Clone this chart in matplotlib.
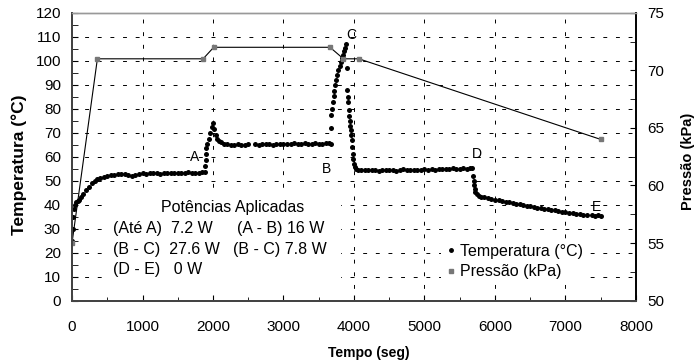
import matplotlib
matplotlib.use("Agg")
import matplotlib.pyplot as plt
from matplotlib.lines import Line2D
from matplotlib.patches import Rectangle
from matplotlib.ticker import MultipleLocator

plt.rcParams['font.family'] = ['Liberation Sans', 'DejaVu Sans']

# temperatura (°C) x tempo (s)
t_temp = [0, 10, 20, 30, 45, 60, 80, 100, 130, 160, 200, 240, 280, 320, 360, 400,
          450, 500, 550, 600, 650, 700, 750, 800, 850, 900, 950, 1000, 1050, 1100,
          1150, 1200, 1250, 1300, 1350, 1400, 1450, 1500, 1550, 1600, 1650, 1700,
          1750, 1800, 1850, 1880,
          1890, 1895, 1900, 1905, 1920, 1940, 1960, 1980, 2000, 2020, 2040, 2060,
          2090, 2120, 2160, 2200, 2250, 2300, 2350, 2400, 2450, 2500, 2600, 2650,
          2700, 2750, 2800, 2850, 2900, 2950, 3000, 3050, 3100, 3150, 3200, 3250,
          3300, 3350, 3400, 3450, 3500, 3550, 3600, 3650, 3670,
          3675, 3680, 3690, 3700, 3710, 3720, 3735, 3750, 3765, 3780, 3795, 3810,
          3825, 3840, 3855, 3870, 3885,
          3895, 3905, 3912, 3920, 3928, 3935, 3942, 3948, 3955, 3962, 3970, 3978,
          3985, 3990, 4000, 4010, 4030, 4060, 4100,
          4150, 4200, 4250, 4300, 4350, 4400, 4450, 4500, 4550, 4600, 4650, 4700,
          4750, 4800, 4850, 4900, 4950, 5000, 5050, 5100, 5150, 5200, 5250, 5300,
          5350, 5400, 5450, 5500, 5550, 5600, 5650, 5680,
          5695, 5700, 5705, 5710, 5720, 5740, 5770, 5800, 5850, 5900, 5950, 6000,
          6050, 6100, 6150, 6200, 6250, 6300, 6350, 6400, 6450, 6500, 6550, 6600,
          6650, 6700, 6750, 6800, 6850, 6900, 6950, 7000, 7050, 7100, 7150, 7200,
          7250, 7300, 7380, 7420, 7460, 7500]
temp = [25, 30, 35, 38, 40, 41, 41.5, 42, 43, 44.5, 46, 47.5, 49, 50, 50.8, 51.2,
        51.6, 52, 52.2, 52.5, 52.8, 52.6, 52.9, 52.4, 52, 52.2, 52.8, 53, 52.8, 53.1,
        53, 53.2, 52.9, 53.1, 53.3, 53, 53.2, 53.4, 53.1, 53.3, 53.5, 53.2,
        53.4, 53.3, 53.5, 53.6,
        56, 58.5, 61, 63.5, 65.5, 67.5, 70, 72.5, 74, 71.5, 69, 67.5,
        66.5, 66, 65.5, 65.2, 65, 64.8, 65.1, 64.9, 65, 65.2, 65.1, 65,
        65.3, 65.1, 65.2, 65, 65.3, 65.5, 65.2, 65.4, 65.3, 65.6, 65.3, 65.4,
        65.7, 65.5, 65.3, 65.6, 65.5, 65.4, 65.6, 65.7, 65.5,
        72, 77.5, 80, 83, 85.5, 87.5, 90, 92, 94, 96, 98, 99.5,
        101, 102.5, 104, 105.5, 106.8,
        97, 88, 85, 83, 79.5, 77, 75, 73, 71, 69, 67, 64,
        61, 59, 57, 55.7, 55, 54.6, 54.4,
        54.5, 54.3, 54.6, 54.4, 54.2, 54.5, 54.3, 54.6, 54.4, 54.2, 54.5, 54.7,
        54.4, 54.3, 54.6, 54.5, 54.4, 54.7, 54.5, 54.8, 54.6, 54.9, 54.7, 55,
        54.8, 55.1, 54.9, 55, 55.2, 55, 55.3, 55.1,
        52, 50, 48, 46.5, 45.2, 44.5, 43.8, 43.3, 43, 42.6, 42.4, 42.1,
        41.8, 41.5, 41.3, 41, 40.7, 40.4, 40.2, 39.9, 39.6, 39.4, 39.1, 38.8,
        38.6, 38.3, 38.1, 37.8, 37.6, 37.4, 37.1, 36.9, 36.7, 36.5, 36.3, 36.1,
        35.9, 35.7, 35.5, 35.4, 35.5, 35.3]

# pressao (kPa)
t_pres = [0, 360, 1860, 2010, 3660, 3850, 4070, 7500]
pres = [55, 71, 71, 72, 72, 71, 71, 64]

# letras dos pontos
pt_labels = ['A', 'B', 'C', 'D', 'E']
pt_x = [1745, 3612, 3967, 5740, 7442]
pt_y = [60, 54.7, 110.7, 61, 38.9]

fig = plt.figure(figsize=(6.95, 3.64), dpi=100)
ax1 = fig.add_axes([0.1036, 0.174, 0.8115, 0.791])
ax2 = ax1.twinx()
ax1.set_axisbelow(True)

ax1.plot(t_temp, temp, 'o', color='k', ms=3.6, mew=0, zorder=3)
ax2.plot(t_pres, pres, '-', color='k', lw=0.8, marker='s', ms=2.6,
         mfc='#777777', mec='#777777', zorder=2)

ax1.set_xlim(0, 8000)
ax1.set_ylim(0, 120)
ax2.set_ylim(50, 75)
ax1.xaxis.set_major_locator(MultipleLocator(1000))
ax1.xaxis.set_minor_locator(MultipleLocator(500))
ax1.yaxis.set_major_locator(MultipleLocator(10))
ax1.yaxis.set_minor_locator(MultipleLocator(5))
ax2.yaxis.set_major_locator(MultipleLocator(5))
ax2.yaxis.set_minor_locator(MultipleLocator(2.5))

ax1.grid(True, which='major', color='k', lw=0.7, linestyle=(0, (4, 9)))

ax1.tick_params(axis='x', which='both', direction='in', labelsize=11, pad=14)
ax1.tick_params(axis='x', which='major', length=4)
ax1.tick_params(axis='x', which='minor', length=3)
ax1.tick_params(axis='y', which='both', direction='in', labelsize=11, pad=8, length=4)
ax2.tick_params(axis='y', which='both', direction='in', labelsize=11, pad=8, length=4)

for a in (ax1, ax2):
    a.spines['top'].set_color('#999999')
    a.spines['top'].set_linewidth(1.0)
    a.spines['left'].set_color('#444444')
    a.spines['left'].set_linewidth(1.4)
    a.spines['bottom'].set_color('#444444')
    a.spines['bottom'].set_linewidth(1.4)
    a.spines['right'].set_color('k')
    a.spines['right'].set_linewidth(1.2)

ax1.set_xlabel('Tempo (seg)', fontsize=10, fontweight='bold')
ax1.set_ylabel('Temperatura (°C)', fontsize=12.5, fontweight='bold')
ax2.set_ylabel('Pressão (kPa)', fontsize=10.5, fontweight='bold')
ax1.xaxis.set_label_coords(0.527, -0.157)
ax1.yaxis.set_label_coords(-0.08, 0.471)
ax2.yaxis.set_label_coords(1.08, 0.483)

for lab, x, y in zip(pt_labels, pt_x, pt_y):
    ax1.text(x, y, lab, fontsize=10, ha='center', va='center', zorder=5)

# caixa branca atras do texto das potencias
ax1.add_patch(Rectangle((420, 4), 3400, 42, facecolor='white', edgecolor='none', zorder=1))

fs = 11.5
ax1.text(2284, 39, 'Potências Aplicadas', fontsize=fs, ha='center', va='center', zorder=4)
ax1.text(580, 29.9, '(Até A)  7.2 W', fontsize=fs, va='center', zorder=4)
ax1.text(580, 21.5, '(B - C)  27.6 W', fontsize=fs, va='center', zorder=4)
ax1.text(580, 12.8, '(D - E)   0 W', fontsize=fs, va='center', zorder=4)
ax1.text(2340, 29.9, '(A - B) 16 W', fontsize=fs, va='center', zorder=4)
ax1.text(2284, 21.5, '(B - C) 7.8 W', fontsize=fs, va='center', zorder=4)

handles = [Line2D([], [], ls='none', marker='o', color='k', ms=2.5),
           Line2D([], [], ls='none', marker='s', color='#777777', ms=3)]
leg = ax1.legend(handles, ['Temperatura (°C)', 'Pressão (kPa)'], loc='upper left',
                 bbox_to_anchor=(0.655, 0.215), frameon=True, fontsize=fs,
                 handlelength=0.6, handletextpad=0.25, borderpad=0.3, borderaxespad=0,
                 labelspacing=0.35, fancybox=False, framealpha=1)
leg.get_frame().set_edgecolor('none')
leg.get_frame().set_facecolor('white')

fig.savefig('out.png', dpi=100)
